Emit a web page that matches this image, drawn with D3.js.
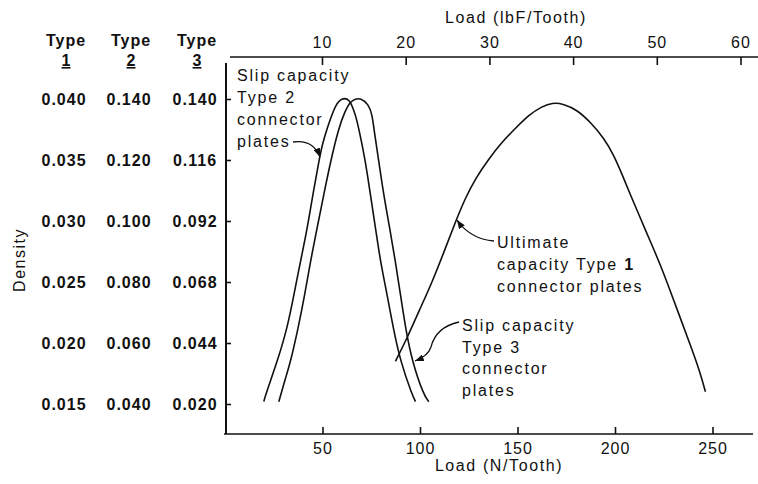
<!DOCTYPE html>
<html>
<head>
<meta charset="utf-8">
<script src="https://cdn.jsdelivr.net/npm/d3@7"></script>
<style>
  body { margin: 0; background: #fff; }
  svg text { font-family: "Liberation Sans", Arial, sans-serif; fill: #111; }
</style>
</head>
<body>
<div id="chart"></div>
<script>
// Load in N/Tooth, density read in each type's own units
var type1Load    = [87.4, 93.4, 99.4, 106.3, 113.1, 118.6, 123.3, 128.5, 135.3, 142.2, 149, 155.8, 162.7, 167.8, 173.7, 180.6, 187.4, 194.3, 199.4, 203.7, 208, 213.1, 218.2, 223.3, 228.5, 233.6, 238.7, 243, 246.4];
var type1Density = [0.0185, 0.0204, 0.0226, 0.0250, 0.0278, 0.0301, 0.0319, 0.0335, 0.0351, 0.0365, 0.0376, 0.0387, 0.0394, 0.0397, 0.0396, 0.0391, 0.0381, 0.0368, 0.0354, 0.0338, 0.0321, 0.0302, 0.0283, 0.0264, 0.0242, 0.0220, 0.0198, 0.0179, 0.0160];

var type2Load    = [19.9, 20.8, 26.8, 31.9, 35.3, 38.7, 42.2, 45, 48.1, 49.8, 52.4, 55.3, 58.1, 61.3, 63.8, 65.2, 66.9, 68.6, 72.1, 74.6, 77.2, 79.7, 83.2, 86.3, 90, 96, 97.7];
var type2Density = [0.0408, 0.0430, 0.0539, 0.0648, 0.0757, 0.0867, 0.0976, 0.1085, 0.1194, 0.1249, 0.1304, 0.1358, 0.1395, 0.1404, 0.1396, 0.1377, 0.1348, 0.1304, 0.1194, 0.1085, 0.0976, 0.0867, 0.0757, 0.0648, 0.0539, 0.0430, 0.0408];

var type3Load    = [27.6, 31, 33.6, 37.5, 40.9, 43.8, 47.2, 50.6, 54.1, 58.3, 61.4, 64.4, 66.9, 69.5, 73.6, 75.5, 76.3, 78.9, 81.4, 84.5, 87.4, 90, 92.6, 96, 101.9, 104.5];
var type3Density = [0.0209, 0.0301, 0.0366, 0.0498, 0.0629, 0.0760, 0.0891, 0.1022, 0.1153, 0.1285, 0.1350, 0.1392, 0.1400, 0.1404, 0.1380, 0.1337, 0.1285, 0.1153, 0.1022, 0.0891, 0.0760, 0.0629, 0.0498, 0.0366, 0.0235, 0.0209];

// tick labels
var type1Ticks = [0.015, 0.020, 0.025, 0.030, 0.035, 0.040];
var type2Ticks = [0.040, 0.060, 0.080, 0.100, 0.120, 0.140];
var type3Ticks = [0.020, 0.044, 0.068, 0.092, 0.116, 0.140];
var loadNTicks = [50, 100, 150, 200, 250];
var loadLbTicks = [10, 20, 30, 40, 50, 60];

var margin = {top: 57, right: 5, bottom: 50, left: 225},
    width = 758 - margin.left - margin.right,
    height = 434 - margin.top;

var svg = d3.select("#chart")
  .append("svg")
    .attr("width", 758)
    .attr("height", 484);

var g = svg.append("g")
    .attr("transform", "translate(" + margin.left + "," + margin.top + ")");

svg.append("defs").append("marker")
    .attr("id", "arrow")
    .attr("viewBox", "0 0 10 8")
    .attr("refX", 10).attr("refY", 4)
    .attr("markerWidth", 9).attr("markerHeight", 7)
    .attr("markerUnits", "userSpaceOnUse")
    .attr("orient", "auto")
  .append("path")
    .attr("d", "M0,0 L10,4 L0,8 z")
    .style("fill", "#111");

// scales
var x = d3.scaleLinear().domain([0, 270]).range([0, 526.5]);
var xTop = d3.scaleLinear().domain([10, 60]).range([97, 515.5]);
var y1 = d3.scaleLinear().domain([0.015, 0.040]).range([347, 42]);
var y2 = d3.scaleLinear().domain([0.040, 0.140]).range([347, 42]);
var y3 = d3.scaleLinear().domain([0.020, 0.140]).range([347, 42]);

// bottom axis
var bottomAxis = g.append("g")
    .attr("transform", "translate(0," + height + ")")
    .call(d3.axisBottom(x).tickValues(loadNTicks).tickSizeInner(-7).tickSizeOuter(0).tickPadding(9));
bottomAxis.select(".domain").remove();
g.append("line").attr("x1", -1).attr("x2", 528).attr("y1", height).attr("y2", height)
    .style("stroke", "#111").style("stroke-width", 1.6);

// top axis
var topAxis = g.append("g")
    .call(d3.axisTop(xTop).tickValues(loadLbTicks).tickSizeInner(-8).tickSizeOuter(0).tickPadding(9));
topAxis.select(".domain").remove();
g.append("line").attr("x1", 5).attr("x2", 533).attr("y1", 0).attr("y2", 0)
    .style("stroke", "#111").style("stroke-width", 1.6);

// left axis, ticks only
var leftAxis = g.append("g")
    .call(d3.axisRight(y1).tickValues(type1Ticks).tickSize(6).tickFormat(""));
leftAxis.select(".domain").remove();
g.append("line").attr("x1", 1).attr("x2", 1).attr("y1", 6).attr("y2", height)
    .style("stroke", "#111").style("stroke-width", 2);

g.selectAll(".tick line").style("stroke", "#111").style("stroke-width", 1.6);
g.selectAll(".tick text")
    .style("font-size", "16px")
    .style("letter-spacing", "1px")
    .style("font-family", "'Liberation Sans', Arial, sans-serif")
    .style("fill", "#111");

// three columns of density labels
var columns = [
  {name: "1", ticks: type1Ticks, scale: y1, cx: -161},
  {name: "2", ticks: type2Ticks, scale: y2, cx: -96},
  {name: "3", ticks: type3Ticks, scale: y3, cx: -30}
];
columns.forEach(function (c) {
  g.append("text")
    .attr("x", c.cx + 2).attr("y", -11)
    .attr("text-anchor", "middle")
    .style("font-size", "16px").style("font-weight", "bold").style("letter-spacing", "1px")
    .text("Type");
  g.append("text")
    .attr("x", c.cx + 2).attr("y", 9)
    .attr("text-anchor", "middle")
    .style("font-size", "16px").style("font-weight", "bold")
    .style("text-decoration", "underline")
    .text(c.name);
  g.selectAll(null)
    .data(c.ticks)
    .enter()
    .append("text")
      .attr("x", c.cx)
      .attr("y", function (d) { return c.scale(d); })
      .attr("dy", "0.35em")
      .attr("text-anchor", "middle")
      .style("font-size", "16px").style("font-weight", "bold").style("letter-spacing", "1px")
      .text(function (d) { return d3.format(".3f")(d); });
});

// axis titles
svg.append("text")
  .attr("x", 516).attr("y", 23)
  .attr("text-anchor", "middle")
  .style("font-size", "16px").style("letter-spacing", "1.6px")
  .text("Load (lbF/Tooth)");

svg.append("text")
  .attr("x", 499).attr("y", 471)
  .attr("text-anchor", "middle")
  .style("font-size", "16px").style("letter-spacing", "1.6px")
  .text("Load (N/Tooth)");

svg.append("text")
  .attr("transform", "translate(25,260) rotate(-90)")
  .attr("text-anchor", "middle")
  .style("font-size", "16px").style("letter-spacing", "1.5px")
  .text("Density");

// curves
function drawCurve(loads, dens, yScale) {
  var pts = loads.map(function (d, i) { return [x(d), yScale(dens[i])]; });
  g.append("path")
    .datum(pts)
    .attr("d", d3.line().curve(d3.curveBasis))
    .style("fill", "none")
    .style("stroke", "#111")
    .style("stroke-width", 1.6);
}
drawCurve(type2Load, type2Density, y2);
drawCurve(type3Load, type3Density, y3);
drawCurve(type1Load, type1Density, y1);

// annotations
function note(lines, px, py, lh) {
  var t = svg.append("text")
    .style("font-size", "16px").style("letter-spacing", "1.8px");
  lines.forEach(function (l, i) {
    t.append("tspan").attr("x", px).attr("y", py + i * lh).text(l);
  });
  return t;
}
note(["Slip capacity", "Type 2", "connector", "plates"], 237, 81, 22);
var ult = note(["Ultimate", "capacity Type ", "connector plates"], 497, 248, 22);
ult.select("tspan:nth-child(2)").append("tspan").style("font-weight", "bold").text("1");
note(["Slip capacity", "Type 3", "connector", "plates"], 462, 331, 21.5);

function arrow(d) {
  svg.append("path")
    .attr("d", d)
    .attr("marker-end", "url(#arrow)")
    .style("fill", "none")
    .style("stroke", "#111")
    .style("stroke-width", 1.3);
}
arrow("M293,142 Q313,139 320,157");
arrow("M494,241 Q470,239 457,220");
arrow("M459,322 Q436,327 431,347 Q428,356 415,361");
</script>
</body>
</html>
